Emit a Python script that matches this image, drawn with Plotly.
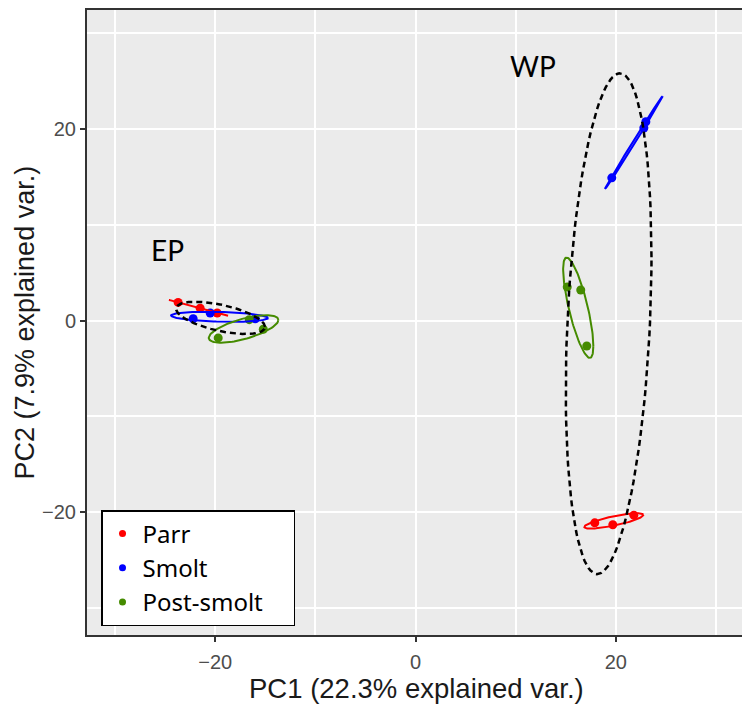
import numpy as np
import plotly.graph_objects as go

# ---- data ----
stages = ["Parr", "Smolt", "Post-smolt"]
stage_colors = ["#FF0000", "#0000FF", "#458B00"]

parr_ep_x = [-23.7, -21.5, -19.8]
parr_ep_y = [1.9, 1.3, 0.8]
smolt_ep_x = [-22.2, -20.5, -16.0]
smolt_ep_y = [0.2, 0.8, 0.2]
post_ep_x = [-19.7, -16.6, -15.2]
post_ep_y = [-1.8, 0.1, -0.9]

parr_wp_x = [17.9, 19.7, 21.8]
parr_wp_y = [-21.1, -21.3, -20.3]
smolt_wp_x = [19.6, 22.8, 23.0]
smolt_wp_y = [14.9, 20.1, 20.75]
post_wp_x = [15.15, 16.5, 17.1]
post_wp_y = [3.5, 3.2, -2.65]

pop_labels = ["EP", "WP"]
pop_label_x = [-24.8, 11.7]
pop_label_y = [7.4, 26.6]

x_ticks = [-20, 0, 20]
y_ticks = [-20, 0, 20]
x_title = "PC1 (22.3% explained var.)"
y_title = "PC2 (7.9% explained var.)"

ELLIPSE_PROB = 0.68

groups = {
    ("Parr", "EP"): (parr_ep_x, parr_ep_y),
    ("Smolt", "EP"): (smolt_ep_x, smolt_ep_y),
    ("Post-smolt", "EP"): (post_ep_x, post_ep_y),
    ("Parr", "WP"): (parr_wp_x, parr_wp_y),
    ("Smolt", "WP"): (smolt_wp_x, smolt_wp_y),
    ("Post-smolt", "WP"): (post_wp_x, post_wp_y),
}


def data_ellipse(xs, ys, prob=ELLIPSE_PROB, n=120):
    xs = np.asarray(xs, float)
    ys = np.asarray(ys, float)
    sigma = np.cov(np.vstack([xs, ys]))
    mu = np.array([xs.mean(), ys.mean()])
    ed = np.sqrt(-2.0 * np.log(1.0 - prob))  # sqrt(qchisq(prob, 2))
    t = np.linspace(0, 2 * np.pi, n)
    circle = np.column_stack([np.cos(t), np.sin(t)])
    L = np.linalg.cholesky(sigma)
    pts = circle @ L.T * ed + mu
    return pts[:, 0], pts[:, 1]


fig = go.Figure()

# points
for stage, col in zip(stages, stage_colors):
    xs = groups[(stage, "EP")][0] + groups[(stage, "WP")][0]
    ys = groups[(stage, "EP")][1] + groups[(stage, "WP")][1]
    fig.add_trace(go.Scatter(
        x=xs, y=ys, mode="markers", name=stage, showlegend=False,
        marker=dict(color=col, size=9),
    ))

# stage x population ellipses
for (stage, pop), (xs, ys) in groups.items():
    col = stage_colors[stages.index(stage)]
    ex, ey = data_ellipse(xs, ys)
    fig.add_trace(go.Scatter(
        x=ex, y=ey, mode="lines", showlegend=False, hoverinfo="skip",
        line=dict(color=col, width=2),
    ))

# population ellipses (dashed)
for pop in pop_labels:
    xs, ys = [], []
    for stage in stages:
        xs += groups[(stage, pop)][0]
        ys += groups[(stage, pop)][1]
    ex, ey = data_ellipse(xs, ys)
    fig.add_trace(go.Scatter(
        x=ex, y=ey, mode="lines", showlegend=False, hoverinfo="skip",
        line=dict(color="black", width=2.5, dash="6px,4px"),
    ))

# legend entries (smaller keys, like the reference)
legend_pad = "\u00a0" * 4
for stage, col in zip(stages, stage_colors):
    fig.add_trace(go.Scatter(
        x=[None], y=[None], mode="markers",
        name=stage + (legend_pad if stage == "Post-smolt" else ""),
        marker=dict(color=col, size=7),
    ))

for lab, lx, ly in zip(pop_labels, pop_label_x, pop_label_y):
    fig.add_annotation(x=lx, y=ly, text=lab, showarrow=False,
                       font=dict(family="Lato, Noto Sans, sans-serif", size=28, color="black"))

axis_common = dict(
    showgrid=True, gridcolor="white", gridwidth=2,
    zeroline=False,
    showline=True, linecolor="#333333", linewidth=2, mirror=True,
    ticks="outside", ticklen=5, tickwidth=2, tickcolor="#333333",
    tickfont=dict(family="Liberation Sans, Arial, sans-serif", size=20, color="#4D4D4D"),
    minor=dict(dtick=10, showgrid=True, gridcolor="white", gridwidth=1.5, ticks=""),
)

fig.update_xaxes(range=[-32.8, 32.9], tickvals=x_ticks, ticklabelstandoff=3, **axis_common)
fig.update_yaxes(range=[-32.8, 32.41], tickvals=y_ticks, **axis_common)

fig.add_annotation(xref="paper", yref="paper", x=0.5, y=0, yanchor="middle", yshift=-53,
                   text=x_title, showarrow=False,
                   font=dict(family="Liberation Sans, Arial, sans-serif", size=27.5, color="#1a1a1a"))
fig.add_annotation(xref="paper", yref="paper", x=0, y=0.5, xanchor="center", xshift=-63,
                   text=y_title, showarrow=False, textangle=-90,
                   font=dict(family="Liberation Sans, Arial, sans-serif", size=27, color="#1a1a1a"))

fig.update_layout(
    width=750, height=709,
    margin=dict(l=79, r=13, t=0, b=82),
    plot_bgcolor="#EBEBEB", paper_bgcolor="white",
    legend=dict(
        x=0.0213, y=0.2, xanchor="left", yanchor="top",
        bgcolor="white", bordercolor="black", borderwidth=1.5,
        font=dict(family="Noto Sans, Lato, sans-serif", size=24, color="black"),
    ),
)

fig.write_html("out.html")
